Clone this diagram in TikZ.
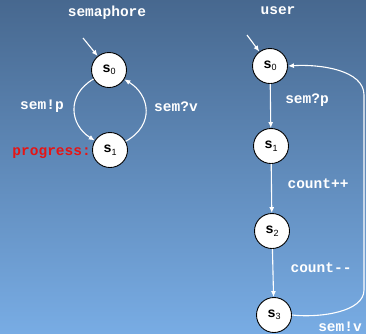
\documentclass[tikz,border=0pt]{standalone}
\usepackage{fontspec}
\setmonofont{Liberation Mono}
\setsansfont{Liberation Sans}
\usetikzlibrary{arrows.meta}
\definecolor{bgtop}{RGB}{71,104,143}
\definecolor{bgbot}{RGB}{120,172,228}
\definecolor{progred}{RGB}{230,20,20}
\newcommand{\stt}[1]{{\fontsize{14}{14}\selectfont\ttfamily\bfseries s}\raisebox{-2.5pt}{\fontsize{9}{9}\selectfont\sffamily #1}}
\tikzset{
  state/.style={circle, draw=black, line width=0.9pt, fill=white, minimum size=35pt, inner sep=0pt},
  lbl/.style={text=white, font=\fontsize{14.5}{16}\selectfont\ttfamily\bfseries, inner sep=0pt},
  edge/.style={draw=white, line width=1.1pt, -{Latex[length=6pt,width=5pt]}},
}
\begin{document}
\begin{tikzpicture}[x=1pt,y=-1pt]
\shade[top color=bgtop, bottom color=bgbot] (0,0) rectangle (366,333);
\useasboundingbox (0,0) rectangle (366,333);

% titles
\node[lbl] (tsem) at (107,13) {semaphore};
\node[lbl] (tuser) at (278,11) {user};

% semaphore
\node[state] (a0) at (109,70) {\stt{0}};
\node[state] (a1) at (110,150) {\stt{1}};
\node[lbl, text=progred, anchor=east] (prog) at (91,153) {progress:};
\coordinate (ai) at (83,38);
\draw[edge] (ai) -- (a0);
\draw[edge] (a0) .. controls (66,95) and (70,125) .. (a1);
\draw[edge] (a1) .. controls (155,125) and (150,95) .. (a0);
\node[lbl] (lp) at (42,106) {sem!p};
\node[lbl] (lv) at (176,107) {sem?v};

% user
\node[state] (b0) at (270,66) {\stt{0}};
\node[state] (b1) at (271,146) {\stt{1}};
\node[state] (b2) at (272,231) {\stt{2}};
\node[state] (b3) at (274,315) {\stt{3}};
\coordinate (bi) at (247,35);
\draw[edge] (bi) -- (b0);
\draw[edge] (b0) -- (b1);
\draw[edge] (b1) -- (b2);
\draw[edge] (b2) -- (b3);
\coordinate (r1) at (364,290);
\coordinate (r2) at (364,95);
\draw[edge] (b3.east) .. controls (320,318) and (364,312) .. (r1) -- (r2) .. controls (364,70) and (320,64) .. (b0.east);
\node[lbl] (l1) at (307,100) {sem?p};
\node[lbl] (l2) at (318,184) {count++};
\node[lbl] (l3) at (321,268) {count--};
\node[lbl] (l4) at (340,327) {sem!v};
\end{tikzpicture}
\end{document}
